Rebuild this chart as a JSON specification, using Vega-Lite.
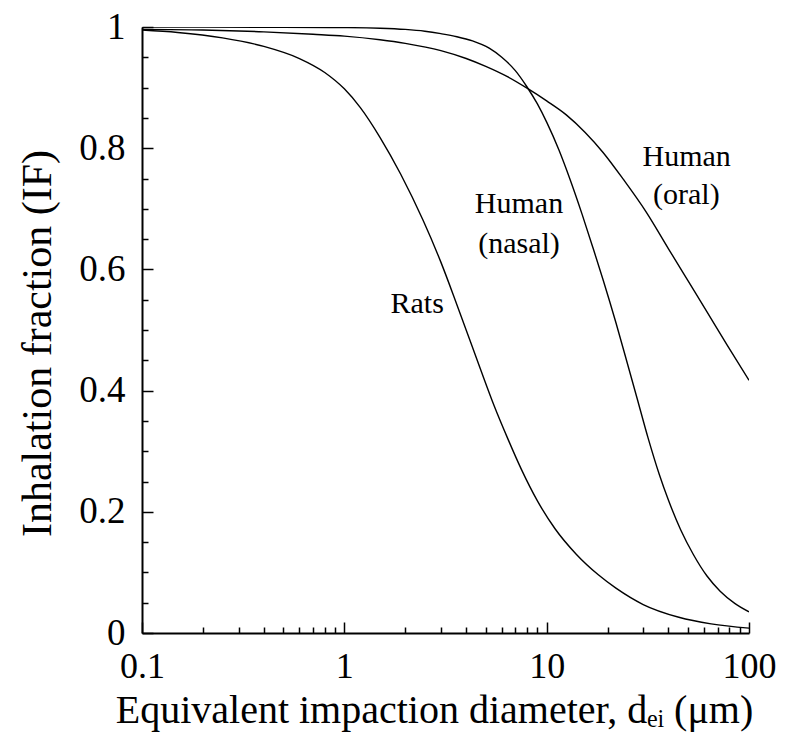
{
  "$schema": "https://vega.github.io/schema/vega-lite/v6.json",
  "width": 607,
  "height": 606,
  "autosize": {"type": "none"},
  "padding": {"left": 142, "top": 27, "right": 36, "bottom": 121},
  "background": "white",
  "config": {
    "view": {"stroke": null},
    "font": "Liberation Serif",
    "text": {"font": "Liberation Serif"},
    "axis": {
      "grid": false,
      "domainColor": "black",
      "tickColor": "black",
      "labelColor": "black",
      "titleColor": "black",
      "labelFont": "Liberation Serif",
      "titleFont": "Liberation Serif",
      "titleFontWeight": "normal",
      "labelFlush": false,
      "labelOverlap": false
    }
  },
  "datasets": {
    "curves": [
      {"series": "Rats", "d": 0.1, "IF": 0.995},
      {"series": "Rats", "d": 0.15, "IF": 0.991},
      {"series": "Rats", "d": 0.25, "IF": 0.982},
      {"series": "Rats", "d": 0.4, "IF": 0.968},
      {"series": "Rats", "d": 0.6, "IF": 0.948},
      {"series": "Rats", "d": 0.8, "IF": 0.925},
      {"series": "Rats", "d": 1.0, "IF": 0.898},
      {"series": "Rats", "d": 1.2, "IF": 0.867},
      {"series": "Rats", "d": 1.5, "IF": 0.818},
      {"series": "Rats", "d": 1.9, "IF": 0.757},
      {"series": "Rats", "d": 2.45, "IF": 0.681},
      {"series": "Rats", "d": 3.0, "IF": 0.612},
      {"series": "Rats", "d": 3.5, "IF": 0.553},
      {"series": "Rats", "d": 4.0, "IF": 0.5},
      {"series": "Rats", "d": 4.7, "IF": 0.436},
      {"series": "Rats", "d": 5.5, "IF": 0.375},
      {"series": "Rats", "d": 6.4, "IF": 0.322},
      {"series": "Rats", "d": 7.5, "IF": 0.27},
      {"series": "Rats", "d": 9.0, "IF": 0.218},
      {"series": "Rats", "d": 11, "IF": 0.172},
      {"series": "Rats", "d": 14, "IF": 0.13},
      {"series": "Rats", "d": 18, "IF": 0.096},
      {"series": "Rats", "d": 22, "IF": 0.074},
      {"series": "Rats", "d": 30, "IF": 0.047},
      {"series": "Rats", "d": 45, "IF": 0.026},
      {"series": "Rats", "d": 65, "IF": 0.015},
      {"series": "Rats", "d": 100, "IF": 0.008},
      {"series": "Nasal", "d": 0.1, "IF": 1.0},
      {"series": "Nasal", "d": 0.5, "IF": 0.9995},
      {"series": "Nasal", "d": 1.0, "IF": 0.999},
      {"series": "Nasal", "d": 1.5, "IF": 0.998},
      {"series": "Nasal", "d": 2.0, "IF": 0.996},
      {"series": "Nasal", "d": 2.5, "IF": 0.993},
      {"series": "Nasal", "d": 3.0, "IF": 0.989},
      {"series": "Nasal", "d": 3.6, "IF": 0.984},
      {"series": "Nasal", "d": 4.3, "IF": 0.977},
      {"series": "Nasal", "d": 5.2, "IF": 0.965},
      {"series": "Nasal", "d": 6.0, "IF": 0.95},
      {"series": "Nasal", "d": 7.0, "IF": 0.928},
      {"series": "Nasal", "d": 8.0, "IF": 0.901},
      {"series": "Nasal", "d": 9.0, "IF": 0.873},
      {"series": "Nasal", "d": 10, "IF": 0.843},
      {"series": "Nasal", "d": 11.5, "IF": 0.797},
      {"series": "Nasal", "d": 13, "IF": 0.75},
      {"series": "Nasal", "d": 15, "IF": 0.69},
      {"series": "Nasal", "d": 17, "IF": 0.634},
      {"series": "Nasal", "d": 19, "IF": 0.583},
      {"series": "Nasal", "d": 22, "IF": 0.512},
      {"series": "Nasal", "d": 25, "IF": 0.446},
      {"series": "Nasal", "d": 28, "IF": 0.387},
      {"series": "Nasal", "d": 31.7, "IF": 0.322},
      {"series": "Nasal", "d": 36, "IF": 0.262},
      {"series": "Nasal", "d": 40, "IF": 0.219},
      {"series": "Nasal", "d": 46, "IF": 0.17},
      {"series": "Nasal", "d": 53, "IF": 0.13},
      {"series": "Nasal", "d": 62, "IF": 0.094},
      {"series": "Nasal", "d": 72, "IF": 0.069},
      {"series": "Nasal", "d": 85, "IF": 0.049},
      {"series": "Nasal", "d": 100, "IF": 0.035},
      {"series": "Oral", "d": 0.1, "IF": 0.996},
      {"series": "Oral", "d": 0.2, "IF": 0.995},
      {"series": "Oral", "d": 0.4, "IF": 0.992},
      {"series": "Oral", "d": 0.7, "IF": 0.988},
      {"series": "Oral", "d": 1.0, "IF": 0.985},
      {"series": "Oral", "d": 1.5, "IF": 0.979},
      {"series": "Oral", "d": 2.0, "IF": 0.973},
      {"series": "Oral", "d": 3.0, "IF": 0.961},
      {"series": "Oral", "d": 4.0, "IF": 0.948},
      {"series": "Oral", "d": 5.0, "IF": 0.935},
      {"series": "Oral", "d": 6.4, "IF": 0.918},
      {"series": "Oral", "d": 8.0, "IF": 0.899},
      {"series": "Oral", "d": 10, "IF": 0.878},
      {"series": "Oral", "d": 12.5, "IF": 0.855},
      {"series": "Oral", "d": 15.5, "IF": 0.826},
      {"series": "Oral", "d": 19, "IF": 0.793},
      {"series": "Oral", "d": 24, "IF": 0.748},
      {"series": "Oral", "d": 31, "IF": 0.695},
      {"series": "Oral", "d": 40, "IF": 0.634},
      {"series": "Oral", "d": 50, "IF": 0.581},
      {"series": "Oral", "d": 62, "IF": 0.53},
      {"series": "Oral", "d": 78, "IF": 0.475},
      {"series": "Oral", "d": 100, "IF": 0.417}
    ],
    "labels": [
      {"label": "Rats", "d": 2.29, "IF": 0.543},
      {"label": "Human", "d": 7.3, "IF": 0.708},
      {"label": "(nasal)", "d": 7.3, "IF": 0.642},
      {"label": "Human", "d": 49.2, "IF": 0.785},
      {"label": "(oral)", "d": 49.0, "IF": 0.722}
    ]
  },
  "layer": [
    {
      "data": {"name": "curves"},
      "mark": {"type": "line", "color": "black", "strokeWidth": 1.4, "interpolate": "monotone", "clip": true},
      "encoding": {
        "x": {
          "field": "d", "type": "quantitative",
          "scale": {"type": "log", "domain": [0.1, 100]},
          "axis": {
            "orient": "bottom",
            "values": [0.1, 1, 10, 100],
            "format": "~g",
            "tickSize": -11,
            "tickWidth": 1.5,
            "domainWidth": 2,
            "labelFontSize": 36,
            "labelPadding": 27,
            "title": "Equivalent impaction diameter, dₑᵢ (μm)",
            "titleFontSize": 40,
            "titleX": 292,
            "titleY": 89,
            "titleAlign": "center",
            "titleBaseline": "alphabetic"
          }
        },
        "y": {
          "field": "IF", "type": "quantitative",
          "scale": {"domain": [0, 1]},
          "axis": {
            "orient": "left",
            "values": [0, 0.2, 0.4, 0.6, 0.8, 1],
            "format": "~g",
            "tickSize": -11,
            "tickWidth": 1.5,
            "domainWidth": 2,
            "labelFontSize": 37,
            "labelPadding": 28,
            "title": "Inhalation fraction (IF)",
            "titleFontSize": 42,
            "titleAngle": -90,
            "titleX": -92,
            "titleY": 316,
            "titleAlign": "center",
            "titleBaseline": "alphabetic"
          }
        },
        "detail": {"field": "series"}
      }
    },
    {
      "data": {"name": "labels"},
      "mark": {"type": "text", "fontSize": 30, "font": "Liberation Serif", "align": "center", "baseline": "middle", "color": "black"},
      "encoding": {
        "x": {
          "field": "d", "type": "quantitative",
          "scale": {"type": "log", "domain": [0.1, 100]},
          "axis": {
            "orient": "bottom",
            "values": [0.2, 0.3, 0.4, 0.5, 0.6, 0.7, 0.8, 0.9, 2, 3, 4, 5, 6, 7, 8, 9, 20, 30, 40, 50, 60, 70, 80, 90],
            "tickSize": -6,
            "tickWidth": 1.5,
            "domain": false,
            "labels": false,
            "title": null
          }
        },
        "y": {
          "field": "IF", "type": "quantitative",
          "scale": {"domain": [0, 1]},
          "axis": {
            "orient": "left",
            "values": [0.05, 0.1, 0.15, 0.25, 0.3, 0.35, 0.45, 0.5, 0.55, 0.65, 0.7, 0.75, 0.85, 0.9, 0.95],
            "tickSize": -6,
            "tickWidth": 1.5,
            "domain": false,
            "labels": false,
            "title": null
          }
        },
        "text": {"field": "label"}
      }
    }
  ],
  "resolve": {"axis": {"x": "independent", "y": "independent"}}
}
